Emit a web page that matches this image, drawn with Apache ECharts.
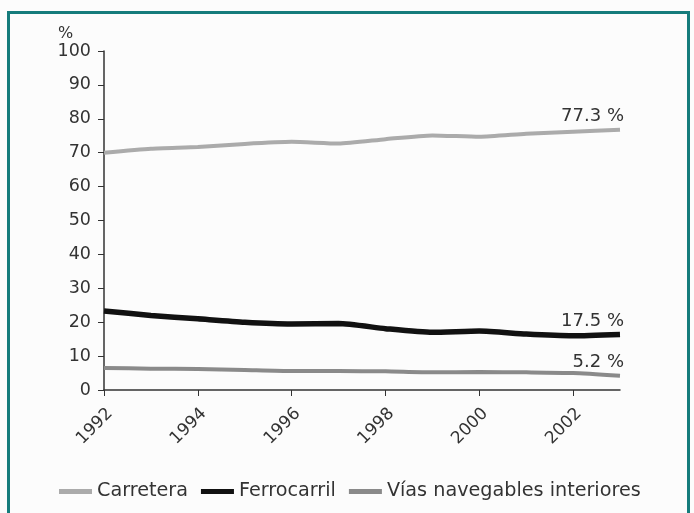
<!DOCTYPE html>
<html>
<head>
<meta charset="utf-8">
<script src="https://cdn.jsdelivr.net/npm/echarts@6/dist/echarts.min.js"></script>
<style>
  html, body { margin: 0; padding: 0; background: #ffffff; }
  #chart { width: 694px; height: 513px; }
</style>
</head>
<body>
<div id="chart"></div>
<script>
// years on the x axis
const years = ["1992", "1993", "1994", "1995", "1996", "1997", "1998", "1999", "2000", "2001", "2002", "2003"];

// share of freight transport, %
const carretera = [70.0, 71.2, 71.7, 72.6, 73.2, 72.7, 74.0, 75.1, 74.7, 75.6, 76.2, 76.8];
const ferrocarril = [23.3, 22.0, 21.0, 20.0, 19.5, 19.6, 18.1, 17.0, 17.4, 16.5, 16.0, 16.4];
const vias = [6.5, 6.3, 6.2, 5.9, 5.6, 5.6, 5.5, 5.2, 5.3, 5.2, 5.0, 4.2];

const seriesNames = ["Carretera", "Ferrocarril", "Vías navegables interiores"];
const endLabels = ["77.3 %", "17.5 %", "5.2 %"];

const font = "DejaVu Sans";
const chart = echarts.init(document.getElementById("chart"));

function lineSeries(name, data, color, width, endText) {
  return {
    name: name,
    type: "line",
    data: data,
    showSymbol: false,
    smooth: 0.2,
    lineStyle: { color: color, width: width },
    itemStyle: { color: color },
    label: { show: false },
    emphasis: { disabled: true },
    markPoint: {
      symbol: "circle",
      symbolSize: 0,
      data: [{ coord: [data.length - 1, data[data.length - 1]] }],
      label: {
        show: true,
        position: "top",
        align: "right",
        distance: 4,
        offset: [4, 0],
        formatter: () => endText,
        fontFamily: font,
        fontSize: 18,
        color: "#333"
      }
    }
  };
}

chart.setOption({
  backgroundColor: "#fcfcfc",
  animation: false,
  title: {
    text: "%",
    left: 53,
    top: 21,
    textStyle: { fontFamily: font, fontSize: 16, fontWeight: "normal", color: "#333" }
  },
  grid: { left: 104, right: 74, top: 51, bottom: 123 },
  legend: {
    data: seriesNames,
    left: 54,
    top: 477,
    icon: "rect",
    itemWidth: 33,
    itemHeight: 5,
    itemGap: 13,
    textStyle: { fontFamily: font, fontSize: 19.2, color: "#333" }
  },
  xAxis: {
    type: "category",
    data: years,
    boundaryGap: false,
    axisLine: { lineStyle: { color: "#333", width: 1.5 } },
    axisTick: { interval: 1, length: 6, lineStyle: { color: "#333" } },
    axisLabel: {
      interval: 1,
      rotate: 45,
      margin: 15,
      verticalAlign: "top",
      fontFamily: font,
      fontSize: 17,
      color: "#333"
    },
    splitLine: { show: false }
  },
  yAxis: {
    type: "value",
    min: 0,
    max: 100,
    interval: 10,
    axisLine: { show: true, lineStyle: { color: "#333", width: 1.5 } },
    axisTick: { show: true, length: 6, lineStyle: { color: "#333" } },
    axisLabel: { margin: 13, fontFamily: font, fontSize: 17.5, color: "#333" },
    splitLine: { show: false }
  },
  series: [
    lineSeries(seriesNames[0], carretera, "#ababab", 4, endLabels[0]),
    lineSeries(seriesNames[1], ferrocarril, "#111111", 5.5, endLabels[1]),
    lineSeries(seriesNames[2], vias, "#8a8a8a", 4, endLabels[2])
  ],
  graphic: [
    {
      type: "rect",
      shape: { x: 8.5, y: 12.5, width: 680, height: 520 },
      style: { fill: null, stroke: "#167c7c", lineWidth: 3 },
      silent: true
    }
  ]
});
</script>
</body>
</html>
